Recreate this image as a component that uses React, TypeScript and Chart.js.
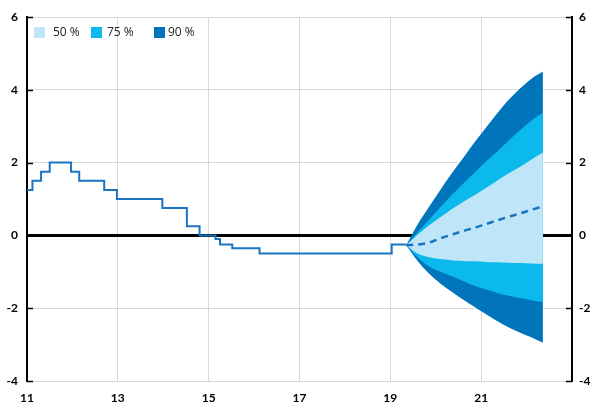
import React, { useEffect, useRef } from "react";
import { Chart, registerables } from "chart.js";

Chart.register(...registerables);

// Repo rate history (year, percent) – value holds from its date onward
const histX = [11.0, 11.12, 11.31, 11.5, 11.97, 12.15, 12.7, 12.98, 13.98, 14.52, 14.8, 15.15, 15.25, 15.52, 16.12, 19.03, 19.35];
const histY = [1.25, 1.5, 1.75, 2.0, 1.75, 1.5, 1.25, 1.0, 0.75, 0.25, 0.0, -0.1, -0.25, -0.35, -0.5, -0.25, -0.25];

// Forecast fan
const fcX = [19.35, 19.6, 19.85, 20.1, 20.35, 20.6, 20.85, 21.1, 21.35, 21.6, 21.85, 22.1, 22.36];
const median = [-0.27, -0.25, -0.2, -0.08, 0.02, 0.12, 0.21, 0.31, 0.41, 0.51, 0.6, 0.7, 0.8];
const hi50 = [-0.27, 0.02, 0.27, 0.5, 0.72, 0.92, 1.1, 1.3, 1.5, 1.7, 1.88, 2.08, 2.28];
const lo50 = [-0.27, -0.5, -0.6, -0.65, -0.68, -0.7, -0.71, -0.73, -0.74, -0.75, -0.76, -0.77, -0.78];
const hi75 = [-0.27, 0.08, 0.42, 0.77, 1.1, 1.42, 1.72, 2.02, 2.3, 2.6, 2.88, 3.15, 3.37];
const lo75 = [-0.27, -0.6, -0.85, -1.0, -1.12, -1.25, -1.38, -1.48, -1.58, -1.66, -1.72, -1.78, -1.83];
const hi90 = [-0.27, 0.3, 0.78, 1.25, 1.7, 2.12, 2.55, 2.95, 3.35, 3.72, 4.03, 4.3, 4.5];
const lo90 = [-0.27, -0.7, -1.05, -1.32, -1.55, -1.76, -1.96, -2.16, -2.35, -2.52, -2.67, -2.8, -2.95];

const legendLabels = ["50 %", "75 %", "90 %"];

const LIGHT = "#bfe5f9";
const MEDIUM = "#0cb9ec";
const DARK = "#0075bc";
const LINE = "#1a74c2";

const pts = (xs: number[], ys: number[]) => xs.map((x, i) => ({ x, y: ys[i] }));

const bandLine = (data: number[], order: number, fill: any, color: string) => ({
  data: pts(fcX, data),
  borderWidth: 0,
  borderColor: "rgba(0,0,0,0)",
  pointRadius: 0,
  backgroundColor: color,
  fill,
  order,
  cubicInterpolationMode: "monotone",
});

const innerTicks = {
  id: "innerTicks",
  afterDatasetsDraw(chart: any) {
    const { ctx, chartArea } = chart;
    const y = chart.scales.y;
    ctx.save();
    ctx.strokeStyle = "#000";
    ctx.lineWidth = 1.5;
    for (let v = -4; v <= 6; v += 2) {
      const py = Math.round(y.getPixelForValue(v)) + 0.5;
      ctx.beginPath();
      ctx.moveTo(chartArea.left, py);
      ctx.lineTo(chartArea.left + 6, py);
      ctx.moveTo(chartArea.right - 6, py);
      ctx.lineTo(chartArea.right, py);
      ctx.stroke();
    }
    ctx.restore();
  },
};

export default function App() {
  const ref = useRef<HTMLCanvasElement>(null);
  useEffect(() => {
    const font = { family: "Lato, 'Open Sans', sans-serif", size: 12, weight: "bold" as const };
    const chart = new Chart(ref.current!, {
      type: "line",
      data: {
        datasets: [
          {
            data: pts(histX, histY),
            stepped: "before",
            borderColor: LINE,
            borderWidth: 2,
            pointRadius: 0,
            fill: false,
            order: 1,
          },
          {
            data: pts(fcX, median),
            borderColor: LINE,
            borderWidth: 2.5,
            borderDash: [7, 5],
            pointRadius: 0,
            fill: false,
            order: 2,
            cubicInterpolationMode: "monotone",
          },
          bandLine(lo90, 30, false, DARK),
          bandLine(hi90, 29, 2, DARK),
          bandLine(lo75, 20, false, MEDIUM),
          bandLine(hi75, 19, 4, MEDIUM),
          bandLine(lo50, 10, false, LIGHT),
          bandLine(hi50, 9, 6, LIGHT),
        ] as any,
      },
      options: {
        animation: false,
        responsive: false,
        layout: { padding: { top: 17, left: 0, right: 0, bottom: 0 } },
        plugins: { legend: { display: false }, tooltip: { enabled: false } },
        scales: {
          x: {
            type: "linear",
            min: 11,
            max: 23,
            ticks: {
              stepSize: 2,
              color: "#000",
              font,
              padding: 10,
              maxRotation: 0,
              callback: (v: any) => (v === 23 ? "" : String(v)),
            },
            grid: { color: "#d9d9d9", lineWidth: 1, drawTicks: false },
            border: { display: false },
            afterFit: (s: any) => {
              s.height = 24;
            },
          },
          y: {
            position: "left",
            min: -4,
            max: 6,
            ticks: { stepSize: 2, color: "#000", font, padding: 9 },
            grid: {
              drawTicks: false,
              color: (c: any) => (c.tick && c.tick.value === 0 ? "#000" : "#d9d9d9"),
              lineWidth: (c: any) => (c.tick && c.tick.value === 0 ? 3 : 1),
            },
            border: { display: true, color: "#000", width: 2 },
            afterFit: (s: any) => {
              s.width = 27;
            },
          },
          y2: {
            position: "right",
            min: -4,
            max: 6,
            ticks: { stepSize: 2, color: "#000", font, padding: 7 },
            grid: { display: false, drawTicks: false },
            border: { display: true, color: "#000", width: 2 },
            afterFit: (s: any) => {
              s.width = 19;
            },
          },
        },
      } as any,
      plugins: [innerTicks],
    });
    return () => chart.destroy();
  }, []);

  const colors = [LIGHT, MEDIUM, DARK];
  const boxLefts = [34, 91, 154];
  const textLefts = [53, 107, 168];
  return (
    <div style={{ position: "fixed", left: 0, top: 0, width: 591, height: 405, background: "#fff" }}>
      <canvas ref={ref} width={591} height={405} />
      {legendLabels.map((lab, i) => (
        <React.Fragment key={lab}>
          <span
            style={{
              position: "absolute",
              left: boxLefts[i],
              top: 27,
              width: 11,
              height: 11,
              background: colors[i],
            }}
          />
          <span
            style={{
              position: "absolute",
              left: textLefts[i],
              top: 24,
              fontFamily: "'Open Sans', sans-serif",
              fontSize: 12,
              lineHeight: "16px",
              color: "#222",
            }}
          >
            {lab}
          </span>
        </React.Fragment>
      ))}
    </div>
  );
}
